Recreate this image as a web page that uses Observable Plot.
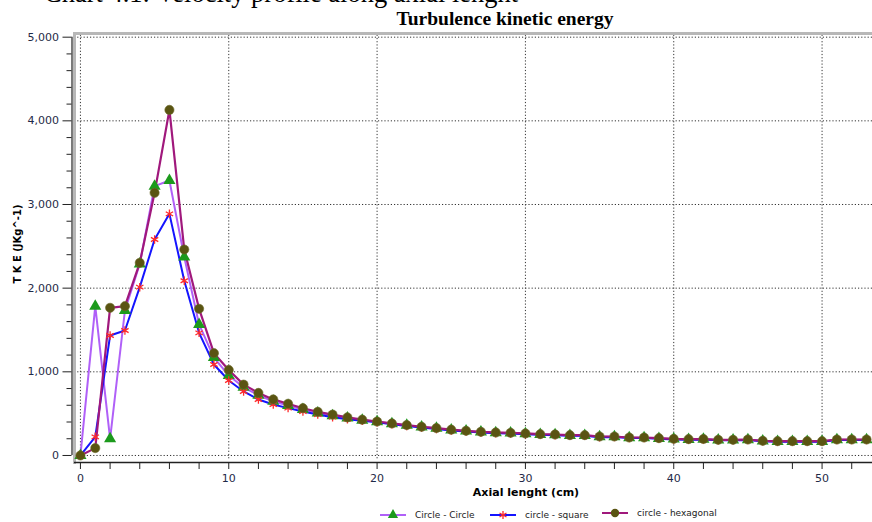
<!DOCTYPE html>
<html><head><meta charset="utf-8">
<script src="https://cdn.jsdelivr.net/npm/d3@7"></script>
<script src="https://cdn.jsdelivr.net/npm/@observablehq/plot@0.6"></script>
<style>
body{margin:0;background:#fff;}
#wrap{position:relative;width:872px;height:522px;overflow:hidden;background:#fff;}
#wrap svg.plot{position:absolute;left:0;top:0;}
.t{position:absolute;white-space:nowrap;}
#cap{left:44px;top:-21.7px;font:26.5px "Liberation Serif",serif;color:#000;}
#title{left:0;width:1010px;text-align:center;top:7.9px;font:bold 19.5px "Liberation Serif",serif;color:#000;}
#ylab{left:17px;top:244px;transform:translate(-50%,-50%) rotate(-90deg);font:bold 10px "DejaVu Sans",sans-serif;color:#000;}
#xlab{left:526px;top:486px;transform:translateX(-50%);font:bold 11px "DejaVu Sans",sans-serif;color:#000;}
.leg{position:absolute;top:508px;height:14px;display:flex;align-items:center;font:9px "DejaVu Sans",sans-serif;color:#222;}
.leg svg{margin-right:9px;}
</style></head><body><div id="wrap">
<div class="t" id="cap">Chart 4.1: Velocity profile along axial lenght</div>
<div class="t" id="title">Turbulence kinetic energy</div>
<div class="t" id="ylab">T K E (JKg^-1)</div>
<div class="t" id="xlab">Axial lenght (cm)</div>
</div>
<script>
const axialCm = [0,1,2,3,4,5,6,7,8,9,10,11,12,13,14,15,16,17,18,19,20,21,22,23,24,25,26,27,28,29,30,31,32,33,34,35,36,37,38,39,40,41,42,43,44,45,46,47,48,49,50,51,52,53];
const circleCircle = [0,1785,199,1733,2290,3219,3287,2371,1566,1170,956,815,720,648,598,550,508,476,447,422,402,380,360,340,324,305,292,280,272,268,260,252,248,240,240,224,224,212,212,204,196,192,194,184,184,188,172,168,168,168,168,188,188,188];
const circleSquare = [0,223,1434,1494,2012,2582,2888,2088,1466,1088,896,765,669,610,566,526,490,458,434,415,398,372,352,333,317,299,286,274,266,262,254,247,243,235,235,219,220,208,208,200,192,189,190,181,181,185,169,165,165,165,165,184,185,185];
const circleHexagonal = [0,88,1765,1785,2303,3139,4131,2462,1753,1223,1022,847,748,670,618,565,522,489,455,428,406,383,363,343,327,308,295,283,275,271,263,255,251,243,243,227,227,215,215,207,199,195,197,187,187,191,175,171,171,171,171,191,191,191];
const seriesNames = ["Circle - Circle","circle - square","circle - hexagonal"];
const yMajorTicks = [0,1000,2000,3000,4000,5000];
const yMinorTicks = [200,400,600,800,1200,1400,1600,1800,2200,2400,2600,2800,3200,3400,3600,3800,4200,4400,4600,4800];
const xTicks = [0,2,4,6,8,10,12,14,16,18,20,22,24,26,28,30,32,34,36,38,40,42,44,46,48,50,52];
const xGrid = [0,10,20,30,40,50];

const rows = (vals) => axialCm.map((x,i)=>({x, y: vals[i]}));
const cc = rows(circleCircle), sq = rows(circleSquare), hx = rows(circleHexagonal);

const colCC = "#b060f8", colSQ = "#1414ff", colHX = "#a0187c";
const mkCC = "#1c9a1c", mkSQ = "#ff2a2a", mkHX = "#5a5412";

const chart = Plot.plot({
  width: 872, height: 522,
  marginLeft: 74, marginRight: 0, marginTop: 33, marginBottom: 60,
  x: {domain: [-0.4, 53.4], axis: null},
  y: {domain: [-84, 5044], axis: null},
  style: {background: "transparent", overflow: "visible"},
  marks: [
    Plot.ruleY(yMajorTicks, {stroke: "#333", strokeDasharray: "1.2,2", strokeWidth: 1}),
    Plot.ruleX(xGrid, {stroke: "#333", strokeDasharray: "1.2,2", strokeWidth: 1, y1: -40, y2: 5044}),
    Plot.frame({anchor: "top", stroke: "#b8b8b8", strokeWidth: 3}),
    Plot.frame({anchor: "left", stroke: "#b8b8b8", strokeWidth: 3}),
    Plot.ruleX([-0.4], {y1: 0, y2: 5000, dx: -2.5, stroke: "#222", strokeWidth: 1.2}),
    Plot.ruleY([-84], {stroke: "#222", strokeWidth: 1.5}),
    Plot.axisY(yMajorTicks, {anchor: "left", tickSize: 9, tickPadding: 4, dx: -2.5, fontSize: 11, fontFamily: "DejaVu Sans", fill: "#1f2a48", stroke: "#222", tickFormat: d3.format(","), label: null}),
    Plot.axisY(yMinorTicks, {anchor: "left", tickSize: 5, dx: -2.5, stroke: "#222", tickFormat: () => "", label: null}),
    Plot.axisX(xTicks, {anchor: "bottom", tickSize: 7, tickPadding: 5, fontSize: 11, fontFamily: "DejaVu Sans", fill: "#1f2a48", stroke: "#222", tickFormat: d => d % 10 === 0 ? String(d) : "", label: null}),
    Plot.line(cc, {x: "x", y: "y", stroke: colCC, strokeWidth: 2}),
    Plot.line(sq, {x: "x", y: "y", stroke: colSQ, strokeWidth: 2}),
    Plot.line(hx, {x: "x", y: "y", stroke: colHX, strokeWidth: 2.2}),
    Plot.dot(cc, {x: "x", y: "y", symbol: "triangle", fill: mkCC, r: 4.5}),
    Plot.dot(sq, {x: "x", y: "y", symbol: "asterisk", stroke: mkSQ, strokeWidth: 1.3, r: 4}),
    Plot.dot(hx, {x: "x", y: "y", symbol: "circle", fill: mkHX, stroke: "#6b6a2a", strokeWidth: 0.6, r: 4.6})
  ]
});
chart.classList.add("plot");
const wrap = document.getElementById("wrap");
wrap.insertBefore(chart, wrap.firstChild);

// legend
const legItems = [
  {name: seriesNames[0], line: colCC, mk: mkCC, sym: "triangle", left: 380, top: 508},
  {name: seriesNames[1], line: colSQ, mk: mkSQ, sym: "asterisk", left: 490, top: 508},
  {name: seriesNames[2], line: colHX, mk: mkHX, sym: "circle", left: 602, top: 506}
];
for (const it of legItems) {
  const d = document.createElement("div");
  d.className = "leg";
  d.style.left = it.left + "px";
  d.style.top = it.top + "px";
  const sw = d3.create("svg").attr("width", 26).attr("height", 14);
  sw.append("line").attr("x1", 0).attr("x2", 26).attr("y1", 7).attr("y2", 7).attr("stroke", it.line).attr("stroke-width", 2);
  const symMap = {triangle: d3.symbolTriangle, asterisk: d3.symbolAsterisk, circle: d3.symbolCircle};
  const p = sw.append("path").attr("transform", "translate(13,7)").attr("d", d3.symbol(symMap[it.sym], it.sym === "circle" ? 55 : 45)());
  if (it.sym === "asterisk") p.attr("fill", "none").attr("stroke", it.mk).attr("stroke-width", 1.3);
  else p.attr("fill", it.mk);
  d.appendChild(sw.node());
  const s = document.createElement("span");
  s.textContent = it.name;
  d.appendChild(s);
  wrap.appendChild(d);
}
</script>
</body></html>
